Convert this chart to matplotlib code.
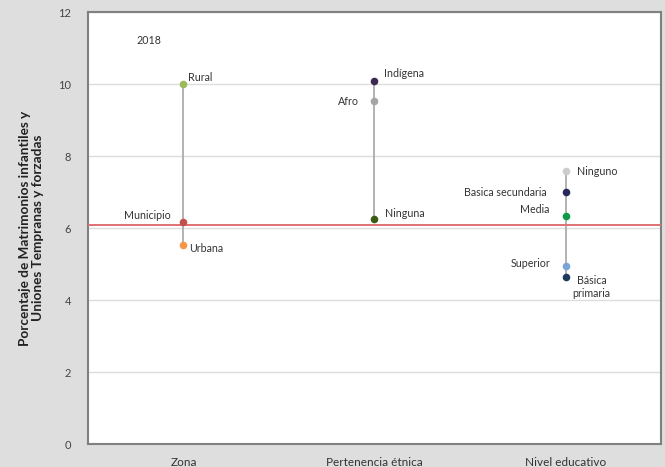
import matplotlib
matplotlib.use("Agg")
import matplotlib.pyplot as plt

# datos
categorias = ['Zona', 'Pertenencia étnica', 'Nivel educativo']
zona_labels = ['Rural', 'Municipio', 'Urbana']
zona_vals = [10.0, 6.17, 5.52]
etnia_labels = ['Indígena', 'Afro', 'Ninguna']
etnia_vals = [10.08, 9.53, 6.24]
edu_labels = ['Ninguno', 'Basica secundaria', 'Media', 'Superior', 'Básica\nprimaria']
edu_vals = [7.58, 6.99, 6.33, 4.96, 4.64]
municipio_ref = 6.08
anio = '2018'

grupos = [(zona_labels, zona_vals), (etnia_labels, etnia_vals), (edu_labels, edu_vals)]

colores = [
    ['#9bbb59', '#c0504d', '#f79646'],
    ['#3b2a50', '#a5a5a5', '#3d5a12'],
    ['#cccccc', '#27275a', '#0f9a48', '#7ba3d6', '#1f3a5f'],
]
# desplazamiento de etiquetas en pixeles (dx, dy, ha)
offs = [
    [(5, 7, 'left'), (-13, 7, 'right'), (6, -3, 'left')],
    [(10, 8, 'left'), (-16, 0, 'right'), (11, 6, 'left')],
    [(11, 0, 'left'), (-19, 0, 'right'), (-16, 7, 'right'), (-15, 2, 'right'), (26, -10, 'center')],
]

plt.rcParams['font.family'] = ['Lato', 'DejaVu Sans']
fig = plt.figure(figsize=(6.65, 4.67), dpi=100)
fig.patch.set_facecolor('#dedede')
ax = fig.add_axes([0.1323, 0.049, 0.8617, 0.925])
ax.set_facecolor('white')

for i, (labs, vals) in enumerate(grupos):
    ax.plot([i, i], [min(vals), max(vals)], color='#a6a6a6', lw=1.2, zorder=2)
    for j, (lab, v) in enumerate(zip(labs, vals)):
        ax.scatter(i, v, s=30, color=colores[i][j], zorder=4, linewidths=0)
        dx, dy, ha = offs[i][j]
        ax.annotate(lab, (i, v), xytext=(dx, dy), textcoords='offset pixels',
                    ha=ha, va='center', fontsize=7.7, color='#333333',
                    linespacing=1.3)

ax.axhline(municipio_ref, color='#e07075', lw=1.4, zorder=3)

ax.set_xlim(-0.5, 2.5)
ax.set_ylim(0, 12)
ax.set_yticks(range(0, 13, 2))
ax.set_xticks(range(len(categorias)))
ax.set_xticklabels(categorias, fontsize=8.5, color='#333333')
ax.tick_params(axis='x', length=0, pad=9)
ax.tick_params(axis='y', length=0, pad=12, labelsize=8, labelcolor='#444444')
ax.grid(axis='y', color='#dddddd', lw=1)
ax.set_axisbelow(True)
for s in ax.spines.values():
    s.set_color('#808080')
    s.set_linewidth(1.5)

ax.text(-0.18, 11.2, anio, fontsize=7.7, color='#333333', ha='center', va='center')
ax.set_ylabel('Porcentaje de Matrimonios infantiles y\nUniones Tempranas y forzadas',
              fontsize=9.8, fontweight='bold', color='#222222', labelpad=10,
              linespacing=1.1)

fig.savefig('out.png', dpi=100, facecolor=fig.get_facecolor())
